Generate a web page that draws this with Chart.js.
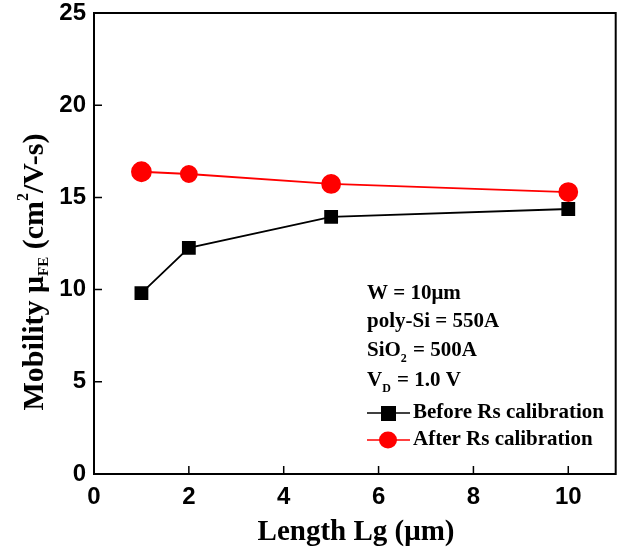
<!DOCTYPE html>
<html>
<head>
<meta charset="utf-8">
<script src="https://cdn.jsdelivr.net/npm/chart.js@4.4.1/dist/chart.umd.min.js"></script>
<style>
  html, body { margin: 0; padding: 0; background: #fff; }
  #wrap { width: 627px; height: 555px; }
</style>
</head>
<body>
<div id="wrap"><canvas id="chartMobility" width="627" height="555"></canvas></div>
<script>
// data
const lengthLg = [1, 2, 5, 10];
const beforeRs = [9.81, 12.26, 13.94, 14.37];
const afterRs = [16.39, 16.27, 15.73, 15.29];
const xTicks = [0, 2, 4, 6, 8, 10];
const yTicks = [0, 5, 10, 15, 20, 25];
const notes = ['W = 10\u03bcm', 'poly-Si = 550A', 'SiO|2| = 500A', 'V|D| = 1.0 V'];

const serif = '"Liberation Serif", "Times New Roman", serif';
const sans = '"Liberation Sans", Arial, sans-serif';

function toPoints(xs, ys) {
  return xs.map((x, i) => ({ x: x, y: ys[i] }));
}

// frame, inward ticks, titles, notes and legend
const decor = {
  id: 'decor',
  afterDraw(chart) {
    const c = chart.ctx;
    const a = chart.chartArea;
    const xs = chart.scales.x, ys = chart.scales.y;
    c.save();
    c.strokeStyle = '#000';
    c.lineWidth = 2;
    c.strokeRect(a.left, a.top, a.right - a.left, a.bottom - a.top);
    c.lineWidth = 1.5;
    c.beginPath();
    xTicks.forEach(v => {
      const px = xs.getPixelForValue(v);
      c.moveTo(px, a.bottom); c.lineTo(px, a.bottom - 8);
    });
    yTicks.forEach(v => {
      const py = ys.getPixelForValue(v);
      c.moveTo(a.left, py); c.lineTo(a.left + 8, py);
    });
    c.stroke();

    // x title
    c.fillStyle = '#000';
    c.font = 'bold 29px ' + serif;
    c.textAlign = 'center';
    c.textBaseline = 'middle';
    c.fillText('Length Lg (\u03bcm)', 356, 533);

    // y title, rotated, with sub/superscript
    c.translate(35, 272);
    c.rotate(-Math.PI / 2);
    const parts = [
      { t: 'Mobility \u03bc', f: 'bold 30px ', dy: 0 },
      { t: 'FE', f: 'bold 15px ', dy: 9 },
      { t: ' (cm', f: 'bold 30px ', dy: 0 },
      { t: '2', f: 'bold 16px ', dy: -11 },
      { t: '/V-s)', f: 'bold 30px ', dy: 0 }
    ];
    let total = 0;
    parts.forEach(p => { c.font = p.f + serif; total += c.measureText(p.t).width; });
    let x0 = -total / 2;
    c.textAlign = 'left';
    parts.forEach(p => {
      c.font = p.f + serif;
      c.fillText(p.t, x0, p.dy);
      x0 += c.measureText(p.t).width;
    });
    c.setTransform(1, 0, 0, 1, 0, 0);

    // notes, "a|b|c" means b is a subscript
    const noteY = [294, 322, 351, 381];
    notes.forEach((n, i) => {
      const seg = n.split('|');
      let nx = 367;
      seg.forEach((s, k) => {
        const sub = k % 2 === 1;
        c.font = 'bold ' + (sub ? 12 : 21) + 'px ' + serif;
        c.fillText(s, nx, noteY[i] + (sub ? 8 : 0));
        nx += c.measureText(s).width + (sub ? 1 : 0);
      });
    });

    // legend
    const legend = [
      { label: 'Before Rs calibration', color: '#000', shape: 'rect', y: 413 },
      { label: 'After Rs calibration', color: '#ff0000', shape: 'circle', y: 440 }
    ];
    legend.forEach(l => {
      c.strokeStyle = l.color;
      c.fillStyle = l.color;
      c.lineWidth = 1.5;
      c.beginPath(); c.moveTo(367, l.y); c.lineTo(410, l.y); c.stroke();
      if (l.shape === 'rect') {
        c.fillRect(381, l.y - 7, 15, 15);
      } else {
        c.beginPath(); c.ellipse(388, l.y, 9, 8.5, 0, 0, Math.PI * 2); c.fill();
      }
      c.fillStyle = '#000';
      c.font = 'bold 21px ' + serif;
      c.fillText(l.label, 413, l.y);
    });
    c.restore();
  }
};

new Chart(document.getElementById('chartMobility').getContext('2d'), {
  type: 'scatter',
  data: {
    datasets: [
      {
        label: 'Before Rs calibration',
        data: toPoints(lengthLg, beforeRs),
        showLine: true,
        borderColor: '#000',
        backgroundColor: '#000',
        borderWidth: 1.8,
        pointStyle: 'rect',
        pointRadius: 8.5,
        pointHoverRadius: 8.5
      },
      {
        label: 'After Rs calibration',
        data: toPoints(lengthLg, afterRs),
        showLine: true,
        borderColor: '#ff0000',
        backgroundColor: '#ff0000',
        borderWidth: 1.8,
        pointStyle: 'circle',
        pointRadius: [9.5, 8, 9, 9],
        pointHoverRadius: [9.5, 8, 9, 9]
      }
    ]
  },
  options: {
    responsive: false,
    animation: false,
    layout: { padding: { top: 0, right: 10, left: 0, bottom: 0 } },
    plugins: { legend: { display: false }, tooltip: { enabled: false } },
    scales: {
      x: {
        type: 'linear',
        min: 0,
        max: 11,
        afterBuildTicks: s => { s.ticks = xTicks.map(v => ({ value: v })); },
        afterFit: s => { s.height = 81; },
        grid: { display: false, drawTicks: false },
        border: { display: false },
        ticks: { color: '#000', padding: 9, font: { family: sans, size: 24, weight: 'bold' } }
      },
      y: {
        type: 'linear',
        min: 0,
        max: 25,
        afterBuildTicks: s => { s.ticks = yTicks.map(v => ({ value: v })); },
        afterFit: s => { s.width = 94; s.paddingTop = 13; },
        grid: { display: false, drawTicks: false },
        border: { display: false },
        ticks: { color: '#000', padding: 8, font: { family: sans, size: 24, weight: 'bold', lineHeight: 0.9 } }
      }
    }
  },
  plugins: [decor]
});
</script>
</body>
</html>
